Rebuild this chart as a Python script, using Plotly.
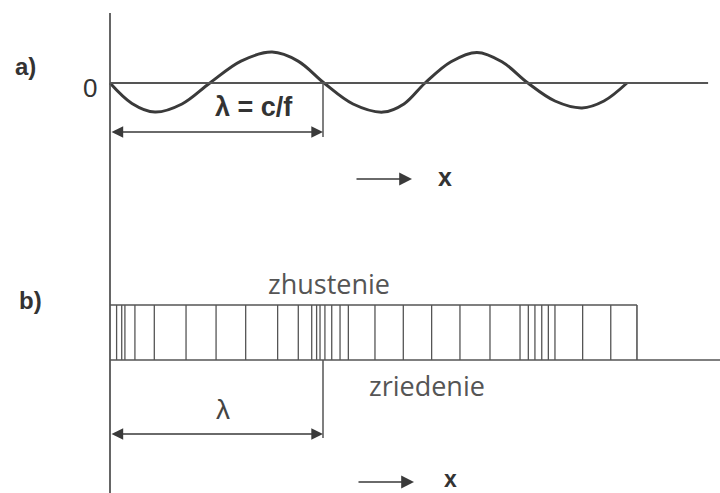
import plotly.graph_objects as go

W, H = 720, 493

# ---- data (x in wavelengths λ, amplitude in relative units) ----
wave_x = [0.0, 0.103, 0.211, 0.338, 0.469, 0.615, 0.761, 0.883, 1.005, 1.141, 1.282,
          1.380, 1.479, 1.601, 1.723, 1.840, 1.962, 2.089, 2.216, 2.319, 2.427]
wave_y = [0.0, -0.68, -0.97, -0.70, 0.0, 0.73, 1.03, 0.73, 0.0, -0.70, -0.97,
          -0.70, 0.0, 0.71, 1.02, 0.71, 0.0, -0.60, -0.83, -0.60, 0.0]

layer_x = [0.031, 0.055, 0.070, 0.117, 0.208, 0.357, 0.498, 0.637, 0.787, 0.884,
           0.947, 0.970, 0.986, 1.009, 1.041, 1.080, 1.119, 1.244, 1.377, 1.510,
           1.643, 1.784, 1.925, 1.964, 1.995, 2.027, 2.058, 2.089, 2.219, 2.351]
medium_end = 2.474      # right end of the medium block (λ)
zero_line_end = 2.808   # end of the zero axis in panel a (λ)
wavelength = 1.0        # λ marker

labels = {"a": "a)", "b": "b)", "zero": "0", "lam_a": "λ = c/f", "lam_b": "λ",
          "x": "x", "comp": "zhustenie", "rare": "zriedenie"}

# ---- layout helpers ----
PX_PER_L = 213.0
X0 = 110.0
Y0 = 83.0
PX_PER_A = 30.0


def px(p):
    return p / W


def py(p):
    return 1 - p / H


ink = "#3a3a3a"
line = "#555555"

fig = go.Figure()
fig.add_trace(go.Scatter(x=wave_x, y=wave_y, mode="lines",
                         line=dict(color=ink, width=3, shape="spline", smoothing=1.0),
                         hoverinfo="skip", showlegend=False))

shapes = []
# vertical axis
shapes.append(dict(type="line", xref="x", yref="paper", x0=0, x1=0, y0=py(13), y1=py(493),
                   line=dict(color=line, width=1.8)))
# zero line panel a
shapes.append(dict(type="line", xref="x", yref="y", x0=0, x1=zero_line_end, y0=0, y1=0,
                   line=dict(color=line, width=1.8)))
# baseline panel b
shapes.append(dict(type="line", xref="x", yref="paper", x0=0, x1=zero_line_end + 0.1,
                   y0=py(360), y1=py(360), line=dict(color=line, width=1.6)))
# block top and right
shapes.append(dict(type="line", xref="x", yref="paper", x0=0, x1=medium_end,
                   y0=py(305), y1=py(305), line=dict(color=line, width=1.6)))
shapes.append(dict(type="line", xref="x", yref="paper", x0=medium_end, x1=medium_end,
                   y0=py(305), y1=py(360), line=dict(color=line, width=1.6)))
for lx in layer_x:
    shapes.append(dict(type="line", xref="x", yref="paper", x0=lx, x1=lx,
                       y0=py(305), y1=py(360), line=dict(color=line, width=1.3)))
# λ markers
shapes.append(dict(type="line", xref="x", yref="paper", x0=wavelength, x1=wavelength,
                   y0=py(83), y1=py(137), line=dict(color=line, width=1.5)))
shapes.append(dict(type="line", xref="x", yref="paper", x0=wavelength, x1=wavelength,
                   y0=py(360), y1=py(438), line=dict(color=line, width=1.5)))

ann = []
# double arrows
for yy in (132, 434):
    ann.append(dict(xref="x", yref="paper", x=wavelength, y=py(yy), axref="x", ax=0,
                    ayref="pixel", ay=0, text="", showarrow=True, arrowside="end+start",
                    arrowhead=2, arrowsize=1.8, arrowwidth=1.3, arrowcolor=ink, standoff=0,
                    startstandoff=0, startarrowhead=2, startarrowsize=1.8))
# direction arrows
for (x1, yy) in ((412, 179), (414, 482)):
    ann.append(dict(xref="paper", yref="paper", x=px(x1), y=py(yy), ax=-57, ay=0,
                    text="", showarrow=True, arrowhead=2, arrowsize=1.6, arrowwidth=1.6,
                    arrowcolor=ink, standoff=0))


def txt(s, x, y, size, fam="Liberation Sans", color="#333333", weight="bold"):
    ann.append(dict(xref="paper", yref="paper", x=px(x), y=py(y), text=s, showarrow=False,
                    xanchor="center", yanchor="middle", borderpad=0,
                    font=dict(family=fam, size=size, color=color, weight=weight)))


txt(labels["a"], 25, 66, 24)
txt(labels["b"], 30, 300, 24)
txt(labels["zero"], 90, 88, 26, weight="normal")
txt(labels["lam_a"], 254, 107, 27)
txt(labels["lam_b"], 223, 409, 28, color="#444444", weight="normal")
txt(labels["x"], 445, 177, 25)
txt(labels["x"], 450, 479, 23)
txt(labels["comp"], 329, 283, 27, fam="Open Sans", color="#555555", weight="normal")
txt(labels["rare"], 427, 385, 27, fam="Open Sans", color="#555555", weight="normal")

fig.update_layout(
    width=W, height=H, margin=dict(l=0, r=0, t=0, b=0),
    paper_bgcolor="white", plot_bgcolor="white",
    xaxis=dict(range=[-X0 / PX_PER_L, (W - X0) / PX_PER_L], visible=False, fixedrange=True),
    yaxis=dict(range=[(Y0 - H) / PX_PER_A, Y0 / PX_PER_A], visible=False, fixedrange=True),
    shapes=shapes, annotations=ann, showlegend=False,
)

fig.write_html("out.html", config={"displayModeBar": False},
               post_script="document.body.style.margin='0';document.body.style.overflow='hidden';")
